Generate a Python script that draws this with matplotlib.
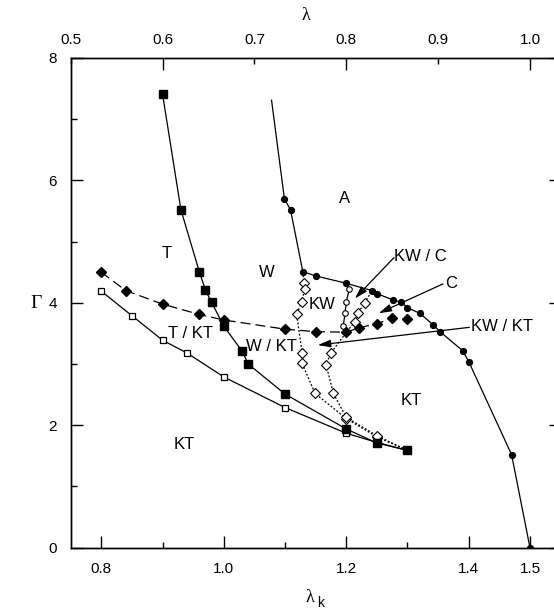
import matplotlib
matplotlib.use("Agg")
import matplotlib.pyplot as plt

plt.rcParams['font.family'] = ['Liberation Sans', 'DejaVu Sans']

# --- phase boundaries (lambda_k, Gamma) ---
# T boundary (filled squares)
lamk_T = [0.90, 0.93, 0.96, 0.97, 0.98, 1.00, 1.03, 1.04, 1.10, 1.20, 1.25, 1.30]
gam_T = [7.41, 5.52, 4.51, 4.21, 4.01, 3.62, 3.21, 3.00, 2.51, 1.94, 1.71, 1.59]

# T / KT boundary (open squares)
lamk_TKT = [0.80, 0.85, 0.90, 0.94, 1.00, 1.10, 1.20, 1.25, 1.30]
gam_TKT = [4.19, 3.79, 3.39, 3.18, 2.79, 2.29, 1.87, 1.72, 1.59]

# W / KT boundary (filled diamonds, dashed)
lamk_W = [0.80, 0.84, 0.90, 0.96, 1.00, 1.10, 1.15, 1.20, 1.22, 1.25, 1.275]
gam_W = [4.50, 4.20, 3.98, 3.81, 3.72, 3.57, 3.53, 3.52, 3.59, 3.66, 3.75]
lamk_W_end = [1.30]
gam_W_end = [3.73]

# A boundary (filled circles); first point is the line start only
lamk_A = [1.078, 1.099, 1.109, 1.129, 1.150, 1.200, 1.242, 1.250, 1.276,
          1.290, 1.300, 1.320, 1.342, 1.353, 1.390, 1.400, 1.470, 1.500]
gam_A = [7.31, 5.70, 5.52, 4.51, 4.44, 4.32, 4.20, 4.15, 4.05,
         4.01, 3.92, 3.83, 3.64, 3.53, 3.22, 3.04, 1.52, 0.00]

# KW / C boundary (open circles)
lamk_KWC = [1.205, 1.200, 1.198, 1.195, 1.200]
gam_KWC = [4.22, 4.02, 3.83, 3.62, 3.52]

# KW boundaries (open diamonds, dotted)
lamk_KW1 = [1.129, 1.131, 1.132, 1.127, 1.119, 1.128, 1.128, 1.149, 1.200, 1.250, 1.300]
gam_KW1 = [4.51, 4.32, 4.22, 4.01, 3.81, 3.18, 3.01, 2.52, 2.11, 1.81, 1.59]
lamk_KW2 = [1.241, 1.230, 1.219, 1.214, 1.200, 1.175, 1.167, 1.179, 1.200, 1.250, 1.300]
gam_KW2 = [4.18, 4.00, 3.83, 3.69, 3.52, 3.18, 2.99, 2.52, 2.13, 1.83, 1.59]

# region labels
region_text = ["A", "T", "W", "KW", "KW / C", "C", "KW / KT", "T / KT", "W / KT", "KT", "KT"]
region_x = [1.197, 0.906, 1.070, 1.160, 1.321, 1.372, 1.454, 0.946, 1.077, 1.306, 0.935]
region_y = [5.70, 4.80, 4.50, 3.98, 4.75, 4.32, 3.62, 3.50, 3.29, 2.40, 1.69]

# pointer arrows: (tail, head)
arrow_tail = [(1.278, 4.74), (1.358, 4.31), (1.401, 3.60)]
arrow_head = [(1.214, 4.07), (1.253, 3.83), (1.1535, 3.31)]

bottom_major = [0.8, 1.0, 1.2, 1.4, 1.5]
bottom_minor = [0.9, 1.1, 1.3]
top_major = [0.6, 0.8, 1.0]
top_minor = [0.5, 0.7, 0.9]

fig = plt.figure(figsize=(5.54, 6.13), dpi=100)
ax = fig.add_axes([0.1276, 0.1065, 0.8843, 0.7989])

lw = 0.9
ax.plot(lamk_T, gam_T, '-', color='black', lw=lw, marker='s', ms=5.5,
        mfc='black', mec='black', zorder=4)
ax.plot(lamk_TKT, gam_TKT, '-', color='black', lw=lw, marker='s', ms=5,
        mfc='white', mec='black', mew=0.9, zorder=3)
ax.plot(lamk_W, gam_W, color='black', lw=lw, ls=(0, (8, 4)), marker='D',
        ms=5.5, mfc='black', mec='black', zorder=5)
ax.plot(lamk_W_end, gam_W_end, ls='none', marker='D', ms=5.5, mfc='black',
        mec='black', zorder=5)
ax.plot(lamk_A, gam_A, '-', color='black', lw=lw, marker='o', ms=4.2,
        mfc='black', mec='black', markevery=list(range(1, len(lamk_A))), zorder=4)
ax.plot(lamk_KWC, gam_KWC, '-', color='black', lw=lw, marker='o', ms=4,
        mfc='white', mec='black', mew=0.8, markevery=[0, 1, 2, 3], zorder=4)
ax.plot(lamk_KW1, gam_KW1, color='black', lw=lw, ls=(0, (1.5, 1.5)), marker='D',
        ms=5, mfc='white', mec='black', mew=0.8,
        markevery=list(range(1, 10)), zorder=3)
ax.plot(lamk_KW2, gam_KW2, color='black', lw=lw, ls=(0, (1.5, 1.5)), marker='D',
        ms=5, mfc='white', mec='black', mew=0.8,
        markevery=[1, 2, 3, 5, 6, 7, 8, 9], zorder=3)

for t, x, y in zip(region_text, region_x, region_y):
    ax.text(x, y, t, fontsize=12, ha='center', va='center', zorder=6)

for tail, head in zip(arrow_tail, arrow_head):
    ax.annotate('', xy=head, xytext=tail,
                arrowprops=dict(arrowstyle='-|>,head_length=0.55,head_width=0.16',
                                mutation_scale=14, color='black', lw=0.9,
                                shrinkA=0, shrinkB=0), zorder=6)

ax.set_xlim(0.75, 1.55)
ax.set_ylim(0, 8)

ax.set_xticks(bottom_major)
ax.set_xticklabels([f"{v:.1f}" for v in bottom_major])
ax.set_xticks(bottom_minor, minor=True)
ax.set_yticks([0, 2, 4, 6, 8])
ax.set_yticks([1, 3, 5, 7], minor=True)

for s in ax.spines.values():
    s.set_linewidth(1.0)
ax.tick_params(which='both', direction='in', labelsize=11, width=1.0,
               right=True, top=False, pad=10)
ax.tick_params(which='major', length=8.5)
ax.tick_params(which='minor', length=4)

top = ax.twiny()
top.set_xlim(0.75 / 1.5, 1.55 / 1.5)
top.set_xticks(top_major)
top.set_xticklabels([f"{v:.1f}" for v in top_major])
top.set_xticks(top_minor, minor=True)
top.set_xticklabels([f"{v:.1f}" for v in top_minor], minor=True)
top.tick_params(which='both', direction='in', labelsize=11, width=1.0, pad=8)
top.tick_params(which='major', length=8.5)
top.tick_params(which='minor', length=4)
for s in top.spines.values():
    s.set_linewidth(1.0)

fig.text(36 / 554, 1 - 303 / 613, "Γ", family='Liberation Serif', fontsize=14,
         ha='center', va='center')
fig.text(306 / 554, 1 - 16 / 613, "λ", family='Liberation Serif', fontsize=13,
         ha='center', va='center')
fig.text(310 / 554, 1 - 597 / 613, "λ", family='Liberation Serif', fontsize=13,
         ha='center', va='center')
fig.text(321 / 554, 1 - 603 / 613, "k", fontsize=10, ha='center', va='center')

fig.savefig("out.png", dpi=100)
